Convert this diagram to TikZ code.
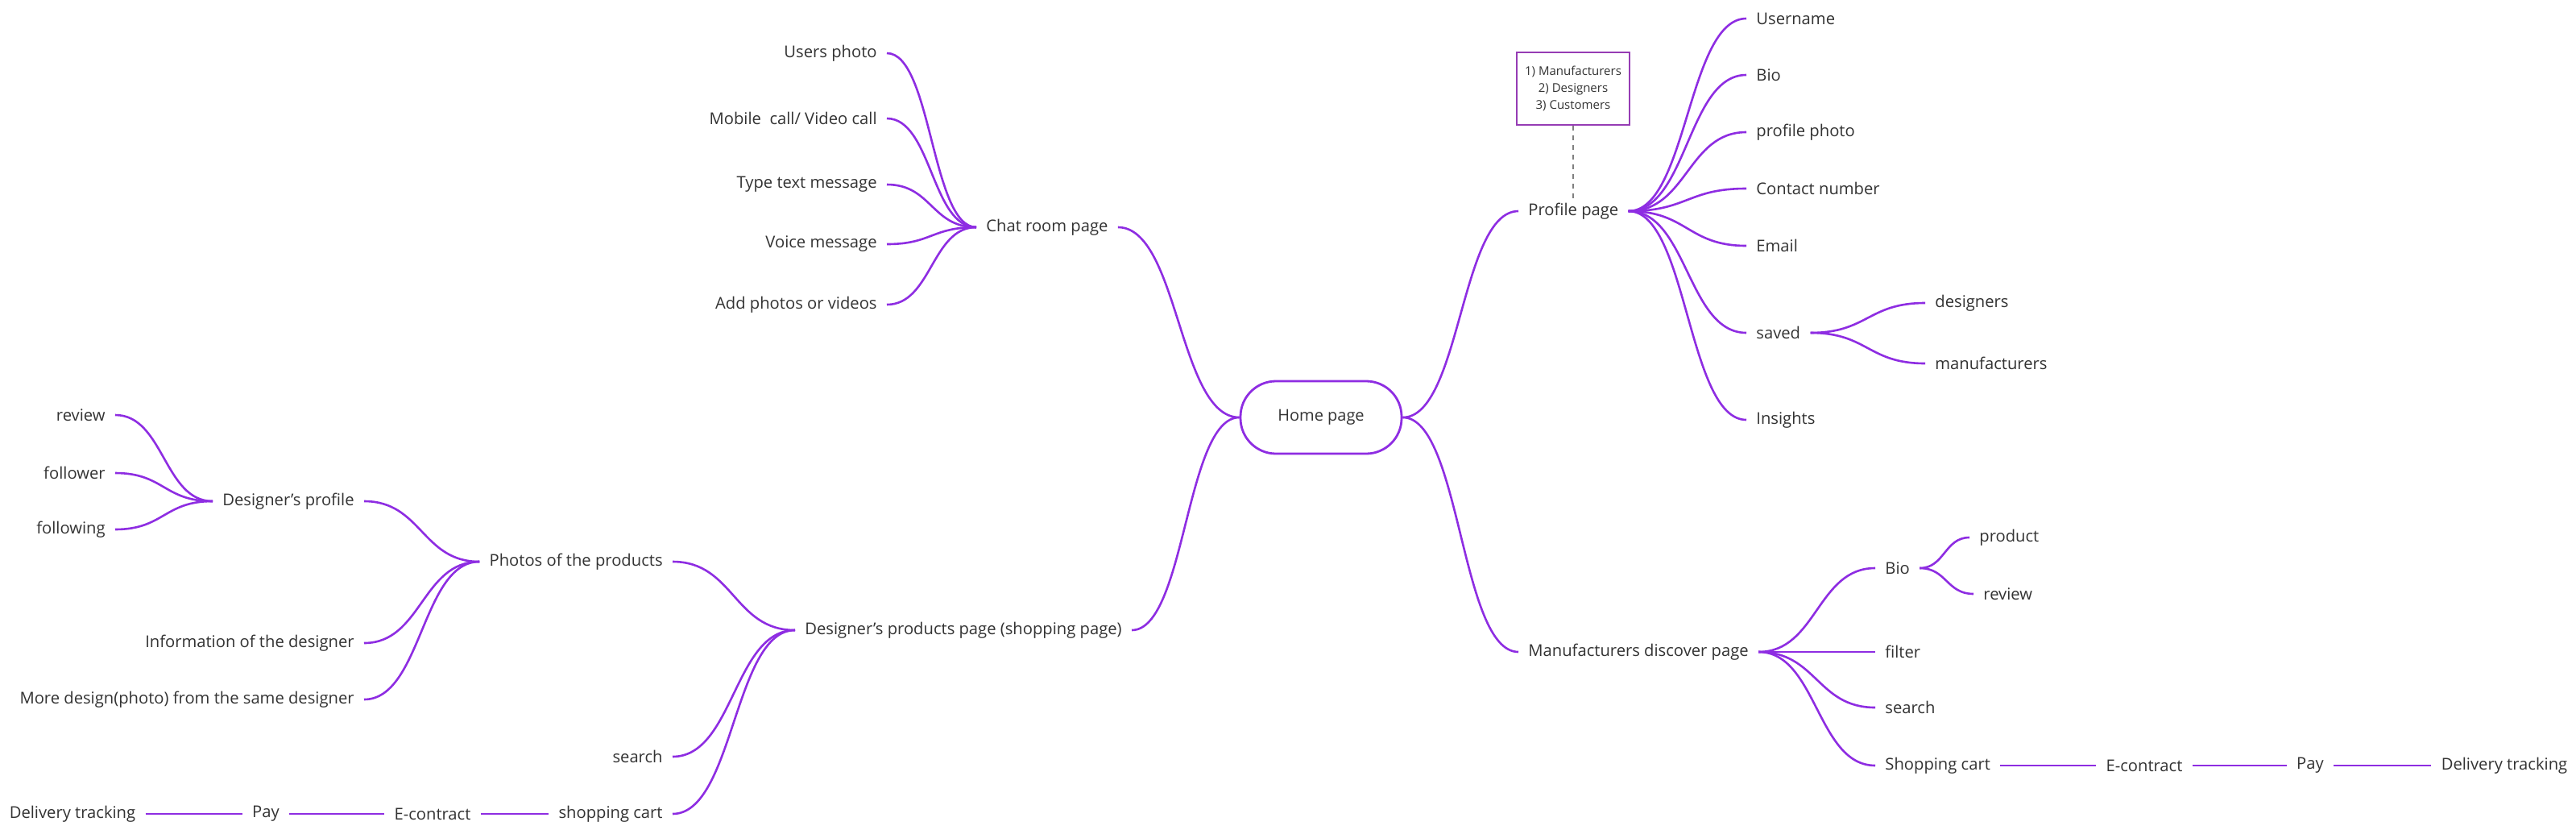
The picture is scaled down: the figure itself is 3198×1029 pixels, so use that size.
\documentclass[tikz,border=0pt]{standalone}
\usepackage{fontspec}
\setmainfont{Open Sans}
\usetikzlibrary{calc}
\definecolor{lnc}{RGB}{142,45,226}
\definecolor{txc}{RGB}{51,51,51}
\definecolor{notec}{RGB}{150,60,180}
\newcommand\lnk[2]{\draw[conn] let \p1=(#1), \p2=(#2), \n1={(\x2-\x1)/2}, \n2={(\x1-\x2)/2} in (\p1) .. controls +(\n1,0pt) and +(\n2,0pt) .. (\p2);}
\begin{document}
\begin{tikzpicture}[x=0.5pt,y=-0.5pt,
  txt/.style={inner xsep=6pt, inner ysep=2pt, text=txc, font=\fontsize{10.1}{12}\selectfont},
  conn/.style={draw=lnc, line width=1.3pt},
  homebox/.style={draw=lnc, line width=1.4pt, rounded corners=22pt, minimum width=100pt, minimum height=45pt, text=txc, font=\fontsize{10}{12}\selectfont},
  notebox/.style={draw=notec, line width=1.2pt, minimum width=70pt, minimum height=45pt, align=center, text=txc, font=\fontsize{7.5}{10.5}\selectfont, inner sep=2pt},
  notelink/.style={draw=gray, line width=0.6pt, dashed}]
\useasboundingbox[fill=white] (0,0) rectangle (3198,1029);

% centre
\node[homebox] (home) at (1640,518) {Home page};

% chat room
\node[txt, anchor=west] (chat) at (1212,282) {Chat room page};
\node[txt, anchor=east] (up) at (1101,66) {Users photo};
\node[txt, anchor=east] (mc) at (1101,147) {Mobile\ \ call/ Video call};
\node[txt, anchor=east] (tt) at (1101,229) {Type text message};
\node[txt, anchor=east] (vm) at (1101,303) {Voice message};
\node[txt, anchor=east] (ap) at (1101,378) {Add photos or videos};

% profile
\node[txt, anchor=west] (prof) at (1885,262) {Profile page};
\node[notebox] (note) at (1953,110) {1) Manufacturers\\2) Designers\\3) Customers};
\node[txt, anchor=west] (user) at (2168,23) {Username};
\node[txt, anchor=west] (bio) at (2168,93) {Bio};
\node[txt, anchor=west] (pph) at (2168,164) {profile photo};
\node[txt, anchor=west] (cn) at (2168,234) {Contact number};
\node[txt, anchor=west] (em) at (2168,305) {Email};
\node[txt, anchor=west] (sav) at (2168,413) {saved};
\node[txt, anchor=west] (ins) at (2168,521) {Insights};
\node[txt, anchor=west] (sdes) at (2390,376) {designers};
\node[txt, anchor=west] (sman) at (2390,451) {manufacturers};

% manufacturers discover
\node[txt, anchor=west] (mfg) at (1885,809) {Manufacturers discover page};
\node[txt, anchor=west] (bio2) at (2328,705) {Bio};
\node[txt, anchor=west] (prod) at (2445,667) {product};
\node[txt, anchor=west] (rev2) at (2450,737) {review};
\node[txt, anchor=west] (filt) at (2328,809) {filter};
\node[txt, anchor=west] (srch2) at (2328,878) {search};
\node[txt, anchor=west] (cart2) at (2328,950) {Shopping cart};
\node[txt] (ec2) at (2662,950) {E-contract};
\node[txt] (pay2) at (2868,950) {Pay};
\node[txt] (dt2) at (3109,950) {Delivery tracking};

% designer's products page
\node[txt, anchor=west] (dpp) at (987,782) {Designer's products page (shopping page)};
\node[txt, anchor=east] (pp) at (835,697) {Photos of the products};
\node[txt, anchor=east] (srch1) at (835,939) {search};
\node[txt, anchor=east] (cart1) at (835,1010) {shopping cart};
\node[txt] (ec1) at (537,1010) {E-contract};
\node[txt] (pay1) at (330,1010) {Pay};
\node[txt] (dt1) at (90,1010) {Delivery tracking};
\node[txt, anchor=east] (dp) at (452,622) {Designer's profile};
\node[txt, anchor=east] (info) at (452,798) {Information of the designer};
\node[txt, anchor=east] (more) at (452,868) {More design(photo) from the same designer};
\node[txt, anchor=east] (rev1) at (143,515) {review};
\node[txt, anchor=east] (fol) at (143,587) {follower};
\node[txt, anchor=east] (fing) at (143,657) {following};

% connectors: centre
\lnk{chat.east}{home.west}
\lnk{dpp.east}{home.west}
\lnk{home.east}{prof.west}
\lnk{home.east}{mfg.west}

% chat
\lnk{up.east}{chat.west}
\lnk{mc.east}{chat.west}
\lnk{tt.east}{chat.west}
\lnk{vm.east}{chat.west}
\lnk{ap.east}{chat.west}

% profile
\draw[notelink] (note.south) -- (note.south |- prof.north);
\lnk{prof.east}{user.west}
\lnk{prof.east}{bio.west}
\lnk{prof.east}{pph.west}
\lnk{prof.east}{cn.west}
\lnk{prof.east}{em.west}
\lnk{prof.east}{sav.west}
\lnk{prof.east}{ins.west}
\lnk{sav.east}{sdes.west}
\lnk{sav.east}{sman.west}

% manufacturers
\lnk{mfg.east}{bio2.west}
\lnk{mfg.east}{filt.west}
\lnk{mfg.east}{srch2.west}
\lnk{mfg.east}{cart2.west}
\lnk{bio2.east}{prod.west}
\lnk{bio2.east}{rev2.west}
\draw[conn] (cart2.east) -- (ec2.west);
\draw[conn] (ec2.east) -- (pay2.west);
\draw[conn] (pay2.east) -- (dt2.west);

% designer's products
\lnk{pp.east}{dpp.west}
\lnk{srch1.east}{dpp.west}
\lnk{cart1.east}{dpp.west}
\lnk{dp.east}{pp.west}
\lnk{info.east}{pp.west}
\lnk{more.east}{pp.west}
\lnk{rev1.east}{dp.west}
\lnk{fol.east}{dp.west}
\lnk{fing.east}{dp.west}
\draw[conn] (dt1.east) -- (pay1.west);
\draw[conn] (pay1.east) -- (ec1.west);
\draw[conn] (ec1.east) -- (cart1.west);
\end{tikzpicture}
\end{document}
